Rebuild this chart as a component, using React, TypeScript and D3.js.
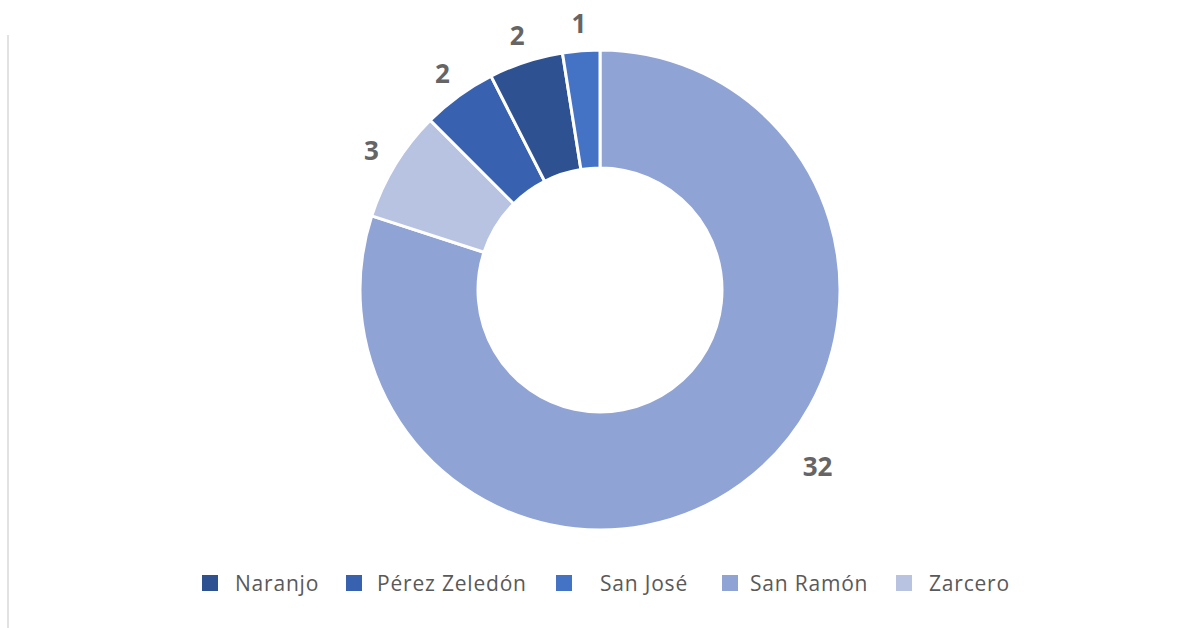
import React from "react";
import * as d3 from "d3";

const categories = ["Naranjo", "Pérez Zeledón", "San José", "San Ramón", "Zarcero"];
const values = [2, 2, 1, 32, 3];
const colors = ["#2E5192", "#3862AF", "#4473C5", "#8FA3D5", "#B8C3E2"];
// clockwise drawing order starting at 12 o'clock
const sliceOrder = ["San Ramón", "Zarcero", "Pérez Zeledón", "Naranjo", "San José"];

const W = 1177;
const H = 628;
const cx = 600;
const cy = 290;
const outerR = 240;
const innerR = 122;
const labelR = 268;
// Excel moves the big slice's label toward the lower right
const labelAngleOverride: Record<string, number> = { "San Ramón": (129 * Math.PI) / 180 };
const labelROverride: Record<string, number> = { "San Ramón": 280 };

const legendX = [202, 346, 556, 722, 896];
const legendTextGap = [33, 31, 44, 28, 33];

export default function App() {
  const data = sliceOrder.map((name) => {
    const i = categories.indexOf(name);
    return { name, value: values[i], color: colors[i] };
  });
  const pie = d3
    .pie<{ name: string; value: number; color: string }>()
    .value((d) => d.value)
    .sort(null);
  const arcs = pie(data);
  const arc = d3.arc<d3.PieArcDatum<any>>().innerRadius(innerR).outerRadius(outerR);

  return (
    <svg
      width={W}
      height={H}
      style={{ position: "absolute", left: 0, top: 0, background: "#fff" }}
    >
      <line x1={8} x2={8} y1={35} y2={H} stroke="#e2e2e2" strokeWidth={2} />
      <g transform={`translate(${cx},${cy})`}>
        {arcs.map((a) => (
          <path key={a.data.name} d={arc(a) || ""} fill={a.data.color} stroke="#fff" strokeWidth={3} />
        ))}
        {arcs.map((a) => {
          const ang = labelAngleOverride[a.data.name] ?? (a.startAngle + a.endAngle) / 2;
          const r = labelROverride[a.data.name] ?? labelR;
          const x = r * Math.sin(ang);
          const y = -r * Math.cos(ang);
          return (
            <text
              key={"l" + a.data.name}
              x={x}
              y={y}
              textAnchor="middle"
              dominantBaseline="central"
              fontFamily="'Open Sans', sans-serif"
              fontWeight={700}
              fontSize={26}
              fill="#656565"
            >
              {a.data.value}
            </text>
          );
        })}
      </g>
      {categories.map((c, i) => (
        <g key={c} transform={`translate(${legendX[i]},583)`}>
          <rect x={0} y={-8} width={16} height={16} fill={colors[i]} />
          <text
            x={legendTextGap[i]}
            y={0}
            dominantBaseline="central"
            fontFamily="'Open Sans', sans-serif"
            fontSize={21}
            letterSpacing={0.8}
            fill="#595959"
          >
            {c}
          </text>
        </g>
      ))}
    </svg>
  );
}
